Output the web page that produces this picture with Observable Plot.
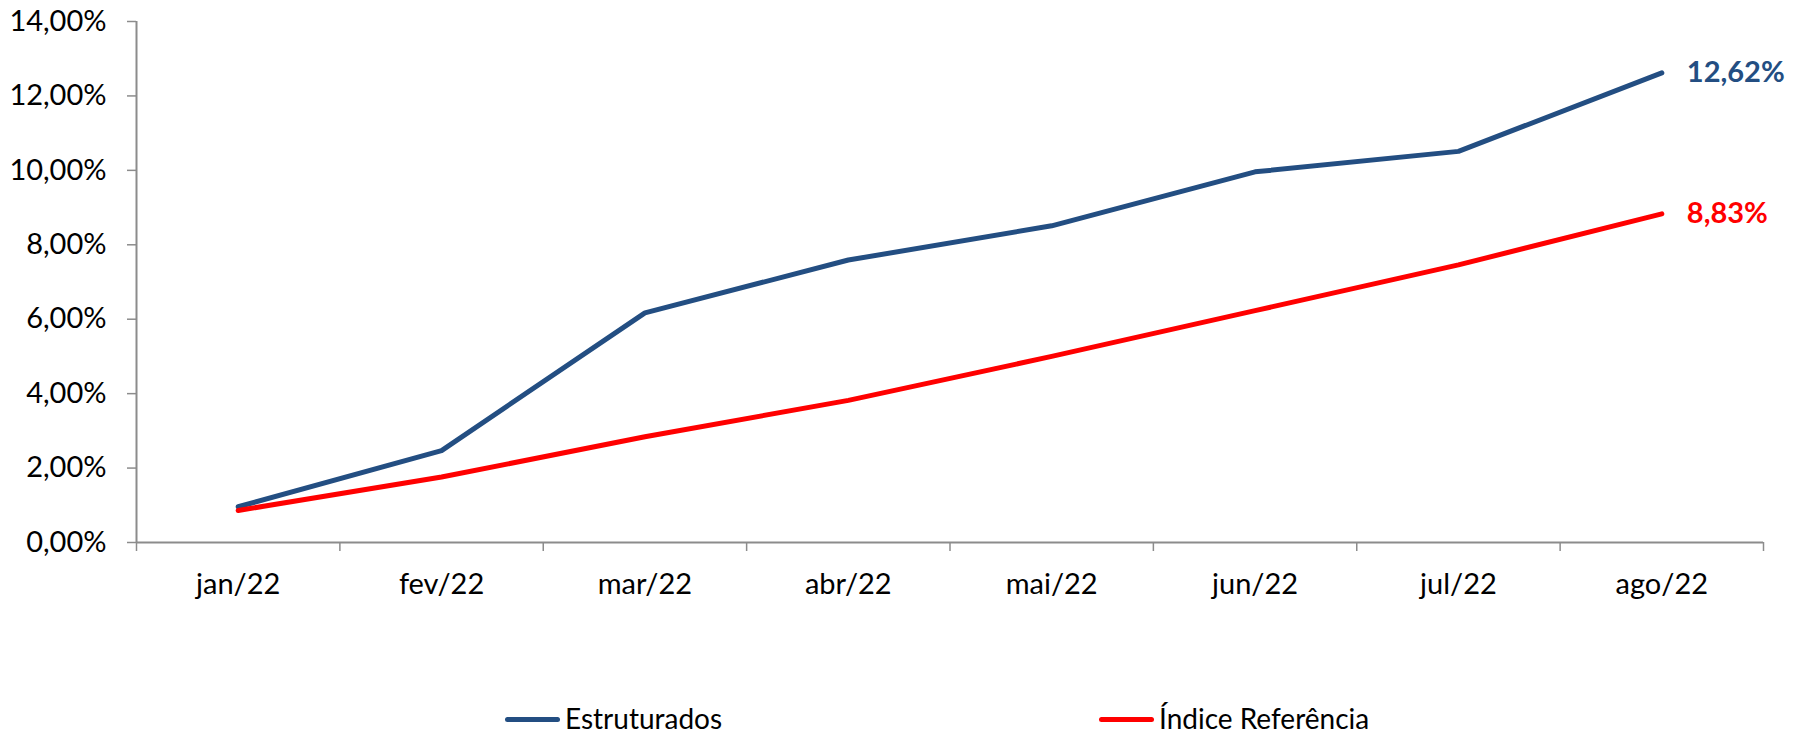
<!DOCTYPE html>
<html><head><meta charset="utf-8">
<script src="https://cdn.jsdelivr.net/npm/d3@7"></script>
<script src="https://cdn.jsdelivr.net/npm/@observablehq/plot@0.6"></script>
<style>
body{margin:0;background:#fff;font-family:Lato,"Open Sans",sans-serif}
#wrap{position:relative;width:1800px;height:740px;overflow:hidden}
#legend{position:absolute;left:0;top:703px;width:1800px;height:30px}
.leg{position:absolute;top:0;height:30px;line-height:30px;display:flex;align-items:center;font-size:28px;color:#000;white-space:nowrap}
.sw{display:inline-block;width:55px;height:5px;border-radius:3px;margin-right:5px;margin-top:3px}
</style></head><body>
<div id="wrap"><div id="chart"></div><div id="legend"></div></div>
<script>
const months = ["jan/22","fev/22","mar/22","abr/22","mai/22","jun/22","jul/22","ago/22"];
const estruturados = [0.96, 2.47, 6.17, 7.59, 8.51, 9.96, 10.51, 12.62];
const indiceReferencia = [0.86, 1.76, 2.84, 3.82, 5.00, 6.23, 7.46, 8.83];
const yTicks = [0, 2, 4, 6, 8, 10, 12, 14];
const seriesNames = ["Estruturados", "Índice Referência"];
const seriesColors = ["#234E82", "#FF0000"];

const fmt = d => d.toFixed(2).replace(".", ",") + "%";
const seriesValues = [estruturados, indiceReferencia];
const rows = seriesNames.flatMap((s, k) => months.map((m, i) => ({series: s, month: m, i: i + 0.5, value: seriesValues[k][i], last: i === months.length - 1})));
const centers = months.map((m, i) => i + 0.5);
const bounds = months.map((m, i) => i).concat([months.length]);

const chart = Plot.plot({
  width: 1800,
  height: 690,
  marginLeft: 136,
  marginRight: 37,
  marginTop: 21,
  marginBottom: 148,
  style: {fontFamily: "Lato, 'Open Sans', sans-serif", fontSize: "29px", color: "#000", background: "#fff"},
  x: {type: "linear", domain: [0, months.length]},
  y: {domain: [0, 14]},
  color: {domain: seriesNames, range: seriesColors},
  marks: [
    Plot.axisY({ticks: yTicks, tickFormat: fmt, tickSize: 9, tickPadding: 21, label: null, stroke: "#8c8c8c", strokeWidth: 1.5, fontSize: 29}),
    Plot.axisX({ticks: bounds, tickFormat: () => "", tickSize: 9, label: null, stroke: "#8c8c8c", strokeWidth: 1.5}),
    Plot.axisX({ticks: centers, tickFormat: d => months[Math.round(d - 0.5)], tickSize: 0, tickPadding: 31, label: null, fontSize: 29}),
    Plot.ruleX([0], {stroke: "#8c8c8c", strokeWidth: 2}),
    Plot.ruleY([0], {stroke: "#8c8c8c", strokeWidth: 2}),
    Plot.line(rows, {x: "i", y: "value", z: "series", stroke: "series", strokeWidth: 5, strokeLinecap: "round", strokeLinejoin: "round"}),
    Plot.text(rows.filter(d => d.last), {x: "i", y: "value", text: d => fmt(d.value), fill: "series", dx: 25, textAnchor: "start", fontWeight: "bold", fontSize: 29})
  ]
});
document.getElementById("chart").appendChild(chart);

const legendLefts = [505, 1099];
const legend = document.getElementById("legend");
seriesNames.forEach((s, k) => {
  const item = document.createElement("div");
  item.className = "leg";
  item.style.left = legendLefts[k] + "px";
  const sw = document.createElement("span");
  sw.className = "sw";
  sw.style.background = seriesColors[k];
  item.appendChild(sw);
  item.appendChild(document.createTextNode(s));
  legend.appendChild(item);
});
</script>
</body></html>
